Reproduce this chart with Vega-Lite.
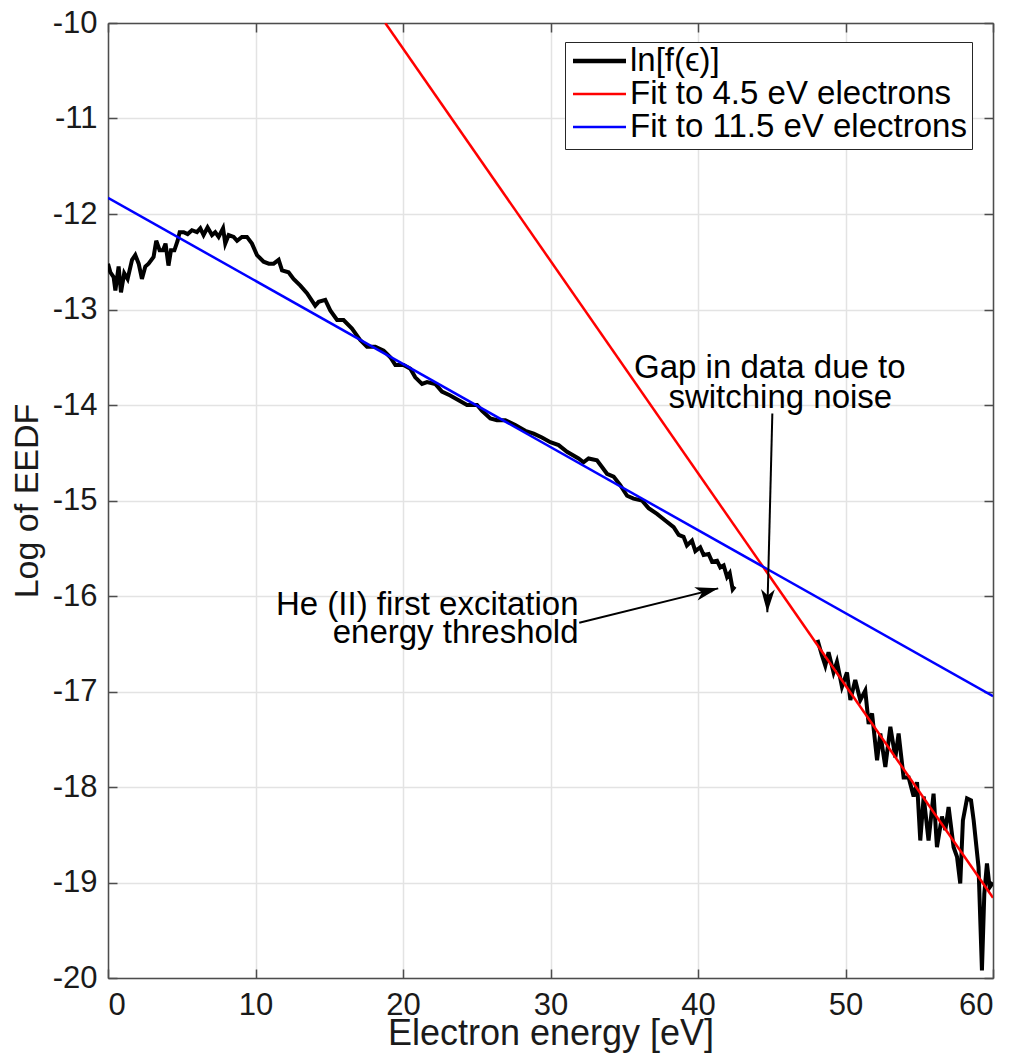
{
  "$schema": "https://vega.github.io/schema/vega-lite/v6.json",
  "width": 885,
  "height": 955,
  "autosize": {"type": "none"},
  "padding": {"left": 108, "top": 23, "right": 16, "bottom": 81},
  "background": "white",
  "config": {
    "font": "Liberation Sans",
    "view": {"stroke": null},
    "axis": {
      "domainColor": "#4d4d4d",
      "domainWidth": 1.5,
      "tickColor": "#4d4d4d",
      "tickWidth": 1.5,
      "tickSize": -9,
      "gridColor": "#e3e3e3",
      "gridWidth": 1.5,
      "labelFont": "Liberation Sans",
      "labelFontSize": 31,
      "labelColor": "#1a1a1a",
      "titleFont": "Liberation Sans",
      "titleFontSize": 35,
      "titleFontWeight": "normal",
      "titleColor": "#1a1a1a"
    }
  },
  "datasets": {
    "eedf": [
      {"series": "ln[f(ϵ)]", "seg": 1, "x": 0, "y": -12.52},
      {"series": "ln[f(ϵ)]", "seg": 1, "x": 0.16, "y": -12.61},
      {"series": "ln[f(ϵ)]", "seg": 1, "x": 0.38, "y": -12.66},
      {"series": "ln[f(ϵ)]", "seg": 1, "x": 0.5, "y": -12.8},
      {"series": "ln[f(ϵ)]", "seg": 1, "x": 0.72, "y": -12.55},
      {"series": "ln[f(ϵ)]", "seg": 1, "x": 0.88, "y": -12.82},
      {"series": "ln[f(ϵ)]", "seg": 1, "x": 1.1, "y": -12.62},
      {"series": "ln[f(ϵ)]", "seg": 1, "x": 1.33, "y": -12.68},
      {"series": "ln[f(ϵ)]", "seg": 1, "x": 1.63, "y": -12.48},
      {"series": "ln[f(ϵ)]", "seg": 1, "x": 1.85, "y": -12.43},
      {"series": "ln[f(ϵ)]", "seg": 1, "x": 2.08, "y": -12.52},
      {"series": "ln[f(ϵ)]", "seg": 1, "x": 2.3, "y": -12.68},
      {"series": "ln[f(ϵ)]", "seg": 1, "x": 2.53, "y": -12.55},
      {"series": "ln[f(ϵ)]", "seg": 1, "x": 2.75, "y": -12.52},
      {"series": "ln[f(ϵ)]", "seg": 1, "x": 3.09, "y": -12.45},
      {"series": "ln[f(ϵ)]", "seg": 1, "x": 3.27, "y": -12.28},
      {"series": "ln[f(ϵ)]", "seg": 1, "x": 3.5, "y": -12.38},
      {"series": "ln[f(ϵ)]", "seg": 1, "x": 3.73, "y": -12.38},
      {"series": "ln[f(ϵ)]", "seg": 1, "x": 3.9, "y": -12.31},
      {"series": "ln[f(ϵ)]", "seg": 1, "x": 4.1, "y": -12.54},
      {"series": "ln[f(ϵ)]", "seg": 1, "x": 4.27, "y": -12.38},
      {"series": "ln[f(ϵ)]", "seg": 1, "x": 4.5, "y": -12.38},
      {"series": "ln[f(ϵ)]", "seg": 1, "x": 4.72, "y": -12.28},
      {"series": "ln[f(ϵ)]", "seg": 1, "x": 4.86, "y": -12.19},
      {"series": "ln[f(ϵ)]", "seg": 1, "x": 5.13, "y": -12.19},
      {"series": "ln[f(ϵ)]", "seg": 1, "x": 5.4, "y": -12.21},
      {"series": "ln[f(ϵ)]", "seg": 1, "x": 5.69, "y": -12.17},
      {"series": "ln[f(ϵ)]", "seg": 1, "x": 6.03, "y": -12.19},
      {"series": "ln[f(ϵ)]", "seg": 1, "x": 6.26, "y": -12.15},
      {"series": "ln[f(ϵ)]", "seg": 1, "x": 6.48, "y": -12.22},
      {"series": "ln[f(ϵ)]", "seg": 1, "x": 6.75, "y": -12.14},
      {"series": "ln[f(ϵ)]", "seg": 1, "x": 7.05, "y": -12.22},
      {"series": "ln[f(ϵ)]", "seg": 1, "x": 7.27, "y": -12.19},
      {"series": "ln[f(ϵ)]", "seg": 1, "x": 7.5, "y": -12.24},
      {"series": "ln[f(ϵ)]", "seg": 1, "x": 7.8, "y": -12.15},
      {"series": "ln[f(ϵ)]", "seg": 1, "x": 7.95, "y": -12.31},
      {"series": "ln[f(ϵ)]", "seg": 1, "x": 8.18, "y": -12.22},
      {"series": "ln[f(ϵ)]", "seg": 1, "x": 8.52, "y": -12.24},
      {"series": "ln[f(ϵ)]", "seg": 1, "x": 8.75, "y": -12.28},
      {"series": "ln[f(ϵ)]", "seg": 1, "x": 9.08, "y": -12.24},
      {"series": "ln[f(ϵ)]", "seg": 1, "x": 9.42, "y": -12.24},
      {"series": "ln[f(ϵ)]", "seg": 1, "x": 9.76, "y": -12.31},
      {"series": "ln[f(ϵ)]", "seg": 1, "x": 10.1, "y": -12.43},
      {"series": "ln[f(ϵ)]", "seg": 1, "x": 10.55, "y": -12.5},
      {"series": "ln[f(ϵ)]", "seg": 1, "x": 10.9, "y": -12.52},
      {"series": "ln[f(ϵ)]", "seg": 1, "x": 11.23, "y": -12.52},
      {"series": "ln[f(ϵ)]", "seg": 1, "x": 11.57, "y": -12.48},
      {"series": "ln[f(ϵ)]", "seg": 1, "x": 11.8, "y": -12.59},
      {"series": "ln[f(ϵ)]", "seg": 1, "x": 12.24, "y": -12.61},
      {"series": "ln[f(ϵ)]", "seg": 1, "x": 12.58, "y": -12.68},
      {"series": "ln[f(ϵ)]", "seg": 1, "x": 13.04, "y": -12.75},
      {"series": "ln[f(ϵ)]", "seg": 1, "x": 13.49, "y": -12.83},
      {"series": "ln[f(ϵ)]", "seg": 1, "x": 14.05, "y": -12.96},
      {"series": "ln[f(ϵ)]", "seg": 1, "x": 14.28, "y": -12.92},
      {"series": "ln[f(ϵ)]", "seg": 1, "x": 14.73, "y": -12.9},
      {"series": "ln[f(ϵ)]", "seg": 1, "x": 15.07, "y": -13.01},
      {"series": "ln[f(ϵ)]", "seg": 1, "x": 15.53, "y": -13.11},
      {"series": "ln[f(ϵ)]", "seg": 1, "x": 15.97, "y": -13.11},
      {"series": "ln[f(ϵ)]", "seg": 1, "x": 16.54, "y": -13.2},
      {"series": "ln[f(ϵ)]", "seg": 1, "x": 17.1, "y": -13.32},
      {"series": "ln[f(ϵ)]", "seg": 1, "x": 17.56, "y": -13.39},
      {"series": "ln[f(ϵ)]", "seg": 1, "x": 18.12, "y": -13.39},
      {"series": "ln[f(ϵ)]", "seg": 1, "x": 18.69, "y": -13.43},
      {"series": "ln[f(ϵ)]", "seg": 1, "x": 19.14, "y": -13.5},
      {"series": "ln[f(ϵ)]", "seg": 1, "x": 19.48, "y": -13.58},
      {"series": "ln[f(ϵ)]", "seg": 1, "x": 20.04, "y": -13.58},
      {"series": "ln[f(ϵ)]", "seg": 1, "x": 20.5, "y": -13.62},
      {"series": "ln[f(ϵ)]", "seg": 1, "x": 20.83, "y": -13.71},
      {"series": "ln[f(ϵ)]", "seg": 1, "x": 21.29, "y": -13.78},
      {"series": "ln[f(ϵ)]", "seg": 1, "x": 21.63, "y": -13.76},
      {"series": "ln[f(ϵ)]", "seg": 1, "x": 22.19, "y": -13.78},
      {"series": "ln[f(ϵ)]", "seg": 1, "x": 22.64, "y": -13.86},
      {"series": "ln[f(ϵ)]", "seg": 1, "x": 23.2, "y": -13.9},
      {"series": "ln[f(ϵ)]", "seg": 1, "x": 23.77, "y": -13.95},
      {"series": "ln[f(ϵ)]", "seg": 1, "x": 24.34, "y": -14.0},
      {"series": "ln[f(ϵ)]", "seg": 1, "x": 25.02, "y": -14.0},
      {"series": "ln[f(ϵ)]", "seg": 1, "x": 25.36, "y": -14.06},
      {"series": "ln[f(ϵ)]", "seg": 1, "x": 25.92, "y": -14.14},
      {"series": "ln[f(ϵ)]", "seg": 1, "x": 26.37, "y": -14.16},
      {"series": "ln[f(ϵ)]", "seg": 1, "x": 26.94, "y": -14.16},
      {"series": "ln[f(ϵ)]", "seg": 1, "x": 27.61, "y": -14.21},
      {"series": "ln[f(ϵ)]", "seg": 1, "x": 28.29, "y": -14.27},
      {"series": "ln[f(ϵ)]", "seg": 1, "x": 28.86, "y": -14.3},
      {"series": "ln[f(ϵ)]", "seg": 1, "x": 29.42, "y": -14.34},
      {"series": "ln[f(ϵ)]", "seg": 1, "x": 29.99, "y": -14.39},
      {"series": "ln[f(ϵ)]", "seg": 1, "x": 30.55, "y": -14.42},
      {"series": "ln[f(ϵ)]", "seg": 1, "x": 31.12, "y": -14.49},
      {"series": "ln[f(ϵ)]", "seg": 1, "x": 31.9, "y": -14.56},
      {"series": "ln[f(ϵ)]", "seg": 1, "x": 32.24, "y": -14.6},
      {"series": "ln[f(ϵ)]", "seg": 1, "x": 32.58, "y": -14.56},
      {"series": "ln[f(ϵ)]", "seg": 1, "x": 33.15, "y": -14.58},
      {"series": "ln[f(ϵ)]", "seg": 1, "x": 33.49, "y": -14.65},
      {"series": "ln[f(ϵ)]", "seg": 1, "x": 33.83, "y": -14.72},
      {"series": "ln[f(ϵ)]", "seg": 1, "x": 34.28, "y": -14.75},
      {"series": "ln[f(ϵ)]", "seg": 1, "x": 34.73, "y": -14.84},
      {"series": "ln[f(ϵ)]", "seg": 1, "x": 35.19, "y": -14.95},
      {"series": "ln[f(ϵ)]", "seg": 1, "x": 35.63, "y": -14.98},
      {"series": "ln[f(ϵ)]", "seg": 1, "x": 36.2, "y": -15.0},
      {"series": "ln[f(ϵ)]", "seg": 1, "x": 36.65, "y": -15.08},
      {"series": "ln[f(ϵ)]", "seg": 1, "x": 37.22, "y": -15.14},
      {"series": "ln[f(ϵ)]", "seg": 1, "x": 37.78, "y": -15.21},
      {"series": "ln[f(ϵ)]", "seg": 1, "x": 38.35, "y": -15.28},
      {"series": "ln[f(ϵ)]", "seg": 1, "x": 38.69, "y": -15.36},
      {"series": "ln[f(ϵ)]", "seg": 1, "x": 39.02, "y": -15.38},
      {"series": "ln[f(ϵ)]", "seg": 1, "x": 39.25, "y": -15.47},
      {"series": "ln[f(ϵ)]", "seg": 1, "x": 39.59, "y": -15.42},
      {"series": "ln[f(ϵ)]", "seg": 1, "x": 39.82, "y": -15.53},
      {"series": "ln[f(ϵ)]", "seg": 1, "x": 40.15, "y": -15.49},
      {"series": "ln[f(ϵ)]", "seg": 1, "x": 40.38, "y": -15.57},
      {"series": "ln[f(ϵ)]", "seg": 1, "x": 40.72, "y": -15.56},
      {"series": "ln[f(ϵ)]", "seg": 1, "x": 40.95, "y": -15.64},
      {"series": "ln[f(ϵ)]", "seg": 1, "x": 41.29, "y": -15.63},
      {"series": "ln[f(ϵ)]", "seg": 1, "x": 41.51, "y": -15.7},
      {"series": "ln[f(ϵ)]", "seg": 1, "x": 41.74, "y": -15.68},
      {"series": "ln[f(ϵ)]", "seg": 1, "x": 41.97, "y": -15.8},
      {"series": "ln[f(ϵ)]", "seg": 1, "x": 42.15, "y": -15.76},
      {"series": "ln[f(ϵ)]", "seg": 1, "x": 42.35, "y": -15.93},
      {"series": "ln[f(ϵ)]", "seg": 1, "x": 42.5, "y": -15.9},
      {"series": "ln[f(ϵ)]", "seg": 2, "x": 48.1, "y": -16.46},
      {"series": "ln[f(ϵ)]", "seg": 2, "x": 48.4, "y": -16.62},
      {"series": "ln[f(ϵ)]", "seg": 2, "x": 48.63, "y": -16.73},
      {"series": "ln[f(ϵ)]", "seg": 2, "x": 48.85, "y": -16.59},
      {"series": "ln[f(ϵ)]", "seg": 2, "x": 49.19, "y": -16.8},
      {"series": "ln[f(ϵ)]", "seg": 2, "x": 49.42, "y": -16.69},
      {"series": "ln[f(ϵ)]", "seg": 2, "x": 49.76, "y": -16.95},
      {"series": "ln[f(ϵ)]", "seg": 2, "x": 50.1, "y": -16.8},
      {"series": "ln[f(ϵ)]", "seg": 2, "x": 50.33, "y": -17.09},
      {"series": "ln[f(ϵ)]", "seg": 2, "x": 50.66, "y": -16.88},
      {"series": "ln[f(ϵ)]", "seg": 2, "x": 51.0, "y": -17.09},
      {"series": "ln[f(ϵ)]", "seg": 2, "x": 51.34, "y": -16.99},
      {"series": "ln[f(ϵ)]", "seg": 2, "x": 51.57, "y": -17.34},
      {"series": "ln[f(ϵ)]", "seg": 2, "x": 51.8, "y": -17.23},
      {"series": "ln[f(ϵ)]", "seg": 2, "x": 52.14, "y": -17.72},
      {"series": "ln[f(ϵ)]", "seg": 2, "x": 52.36, "y": -17.44},
      {"series": "ln[f(ϵ)]", "seg": 2, "x": 52.7, "y": -17.79},
      {"series": "ln[f(ϵ)]", "seg": 2, "x": 53.04, "y": -17.37},
      {"series": "ln[f(ϵ)]", "seg": 2, "x": 53.38, "y": -17.69},
      {"series": "ln[f(ϵ)]", "seg": 2, "x": 53.6, "y": -17.44},
      {"series": "ln[f(ϵ)]", "seg": 2, "x": 53.94, "y": -17.9},
      {"series": "ln[f(ϵ)]", "seg": 2, "x": 54.28, "y": -17.9},
      {"series": "ln[f(ϵ)]", "seg": 2, "x": 54.62, "y": -18.1},
      {"series": "ln[f(ϵ)]", "seg": 2, "x": 54.85, "y": -17.95},
      {"series": "ln[f(ϵ)]", "seg": 2, "x": 55.07, "y": -18.56},
      {"series": "ln[f(ϵ)]", "seg": 2, "x": 55.3, "y": -18.1},
      {"series": "ln[f(ϵ)]", "seg": 2, "x": 55.63, "y": -18.56},
      {"series": "ln[f(ϵ)]", "seg": 2, "x": 55.97, "y": -18.07},
      {"series": "ln[f(ϵ)]", "seg": 2, "x": 56.2, "y": -18.63},
      {"series": "ln[f(ϵ)]", "seg": 2, "x": 56.54, "y": -18.31},
      {"series": "ln[f(ϵ)]", "seg": 2, "x": 56.77, "y": -18.45},
      {"series": "ln[f(ϵ)]", "seg": 2, "x": 56.99, "y": -18.21},
      {"series": "ln[f(ϵ)]", "seg": 2, "x": 57.33, "y": -18.63},
      {"series": "ln[f(ϵ)]", "seg": 2, "x": 57.56, "y": -18.73},
      {"series": "ln[f(ϵ)]", "seg": 2, "x": 57.78, "y": -19.01},
      {"series": "ln[f(ϵ)]", "seg": 2, "x": 57.96, "y": -18.35},
      {"series": "ln[f(ϵ)]", "seg": 2, "x": 58.24, "y": -18.12},
      {"series": "ln[f(ϵ)]", "seg": 2, "x": 58.51, "y": -18.14},
      {"series": "ln[f(ϵ)]", "seg": 2, "x": 58.69, "y": -18.35},
      {"series": "ln[f(ϵ)]", "seg": 2, "x": 59.02, "y": -18.84},
      {"series": "ln[f(ϵ)]", "seg": 2, "x": 59.25, "y": -19.92},
      {"series": "ln[f(ϵ)]", "seg": 2, "x": 59.41, "y": -19.12},
      {"series": "ln[f(ϵ)]", "seg": 2, "x": 59.59, "y": -18.8},
      {"series": "ln[f(ϵ)]", "seg": 2, "x": 59.77, "y": -19.05},
      {"series": "ln[f(ϵ)]", "seg": 2, "x": 60, "y": -19.0}
    ],
    "fits": [
      {"series": "Fit to 4.5 eV electrons", "x": 18.8, "y": -10},
      {"series": "Fit to 4.5 eV electrons", "x": 60, "y": -19.16},
      {"series": "Fit to 11.5 eV electrons", "x": 0, "y": -11.83},
      {"series": "Fit to 11.5 eV electrons", "x": 60, "y": -17.05}
    ],
    "notes": [
      {"grp": "he", "x": 31.9, "y": -16.2, "text": "He (II) first excitation"},
      {"grp": "he", "x": 31.9, "y": -16.49, "text": "energy threshold"},
      {"grp": "gap", "x": 44.87, "y": -13.72, "text": "Gap in data due to"},
      {"grp": "gap", "x": 45.58, "y": -14.03, "text": "switching noise"}
    ],
    "arrows": [
      {"id": "he", "x": 31.95, "y": -16.28},
      {"id": "he", "x": 41.37, "y": -15.92},
      {"id": "gap", "x": 45.04, "y": -14.09},
      {"id": "gap", "x": 44.7, "y": -16.17}
    ],
    "heads": [
      {"id": "he", "x": 41.37, "y": -15.92},
      {"id": "gap", "x": 44.7, "y": -16.17}
    ]
  },
  "layer": [
    {
      "data": {"name": "eedf"},
      "mark": {"type": "line", "strokeWidth": 4, "clip": true},
      "encoding": {
        "x": {
          "field": "x", "type": "quantitative",
          "scale": {"domain": [0, 60], "nice": false, "zero": false},
          "axis": {"orient": "bottom", "values": [0, 10, 20, 30, 40, 50, 60], "grid": true, "labelPadding": 21, "labelExpr": "'' + datum.value", "title": "Electron energy [eV]", "titleFontSize": 36, "titlePadding": -4}
        },
        "y": {
          "field": "y", "type": "quantitative",
          "scale": {"domain": [-20, -10], "nice": false, "zero": false},
          "axis": {"orient": "left", "values": [-20, -19, -18, -17, -16, -15, -14, -13, -12, -11, -10], "grid": true, "labelPadding": 20, "labelExpr": "'' + datum.value", "title": "Log of EEDF", "titleFontSize": 34, "titlePadding": 8}
        },
        "detail": {"field": "seg"},
        "color": {
          "field": "series", "type": "nominal",
          "scale": {"domain": ["ln[f(ϵ)]", "Fit to 4.5 eV electrons", "Fit to 11.5 eV electrons"], "range": ["#000000", "#ff0000", "#0000ff"]},
          "legend": {
            "orient": "none", "legendX": 457, "legendY": 19, "direction": "vertical",
            "title": null, "fillColor": "white", "strokeColor": "#262626",
            "padding": 5, "labelFontSize": 33, "labelFont": "Liberation Sans", "labelColor": "#000000",
            "symbolType": "stroke", "symbolSize": 2809, "symbolStrokeWidth": 2.5,
            "symbolOffset": 13, "labelOffset": 14,
            "clipHeight": 28, "rowPadding": 0, "labelLimit": 0,
            "encode": {"symbols": {"update": {"strokeWidth": {"signal": "datum.value === 'ln[f(ϵ)]' ? 4.5 : 2.5"}}}}
          }
        }
      }
    },
    {
      "data": {"name": "fits"},
      "mark": {"type": "line", "strokeWidth": 2.5, "clip": true},
      "encoding": {
        "x": {
          "field": "x", "type": "quantitative",
          "scale": {"domain": [0, 60], "nice": false, "zero": false},
          "axis": {"orient": "top", "values": [0, 10, 20, 30, 40, 50, 60], "grid": false, "labels": false, "title": null}
        },
        "y": {
          "field": "y", "type": "quantitative",
          "scale": {"domain": [-20, -10], "nice": false, "zero": false},
          "axis": {"orient": "right", "values": [-20, -19, -18, -17, -16, -15, -14, -13, -12, -11, -10], "grid": false, "labels": false, "title": null}
        },
        "color": {
          "field": "series", "type": "nominal",
          "scale": {"domain": ["ln[f(ϵ)]", "Fit to 4.5 eV electrons", "Fit to 11.5 eV electrons"], "range": ["#000000", "#ff0000", "#0000ff"]}
        }
      }
    },
    {
      "data": {"name": "notes"},
      "transform": [{"filter": "datum.grp === 'he'"}],
      "mark": {"type": "text", "align": "right", "baseline": "alphabetic", "fontSize": 33, "font": "Liberation Sans", "color": "#000000"},
      "encoding": {
        "x": {"field": "x", "type": "quantitative", "axis": null},
        "y": {"field": "y", "type": "quantitative", "axis": null},
        "text": {"field": "text"}
      }
    },
    {
      "data": {"name": "notes"},
      "transform": [{"filter": "datum.grp === 'gap'"}],
      "mark": {"type": "text", "align": "center", "baseline": "alphabetic", "fontSize": 33, "font": "Liberation Sans", "color": "#000000"},
      "encoding": {
        "x": {"field": "x", "type": "quantitative", "axis": null},
        "y": {"field": "y", "type": "quantitative", "axis": null},
        "text": {"field": "text"}
      }
    },
    {
      "data": {"name": "arrows"},
      "mark": {"type": "line", "strokeWidth": 2, "color": "#000000"},
      "encoding": {
        "x": {"field": "x", "type": "quantitative", "axis": null},
        "y": {"field": "y", "type": "quantitative", "axis": null},
        "detail": {"field": "id"}
      }
    },
    {
      "data": {"name": "heads"},
      "transform": [{"filter": "datum.id === 'he'"}],
      "mark": {"type": "point", "shape": "M0,0 L-2,-0.6 L-1.45,0 L-2,0.6 Z", "size": 529, "filled": true, "color": "#000000", "opacity": 1, "angle": -14},
      "encoding": {
        "x": {"field": "x", "type": "quantitative", "axis": null},
        "y": {"field": "y", "type": "quantitative", "axis": null}
      }
    },
    {
      "data": {"name": "heads"},
      "transform": [{"filter": "datum.id === 'gap'"}],
      "mark": {"type": "point", "shape": "M0,0 L-2,-0.6 L-1.45,0 L-2,0.6 Z", "size": 529, "filled": true, "color": "#000000", "opacity": 1, "angle": 91.4},
      "encoding": {
        "x": {"field": "x", "type": "quantitative", "axis": null},
        "y": {"field": "y", "type": "quantitative", "axis": null}
      }
    }
  ]
}
